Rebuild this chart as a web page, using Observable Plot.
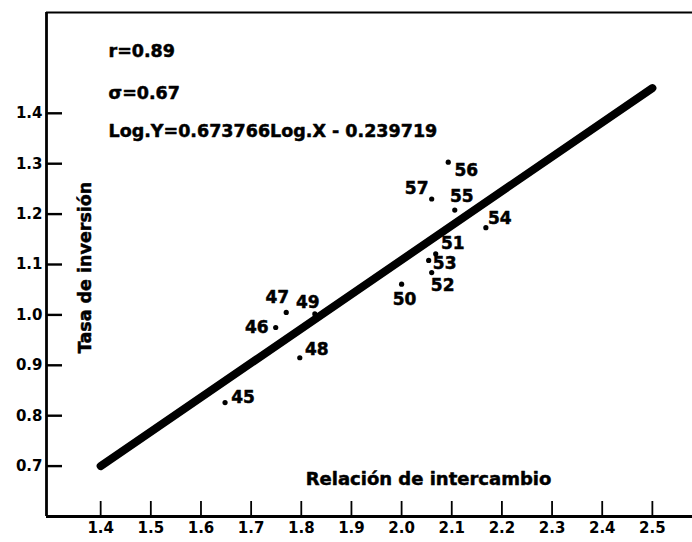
<!DOCTYPE html>
<html>
<head>
<meta charset="utf-8">
<script src="https://cdn.jsdelivr.net/npm/d3@7"></script>
<script src="https://cdn.jsdelivr.net/npm/@observablehq/plot@0.6"></script>
<style>
  html, body { margin: 0; padding: 0; background: #fff; }
  svg { display: block; }
</style>
</head>
<body>
<div id="chart"></div>
<script>
// Observed years (19xx) with trade ratio (x) and investment rate (y)
const years = ["45", "46", "47", "48", "49", "50", "51", "52", "53", "54", "55", "56", "57"];
const relacion = [1.648, 1.749, 1.770, 1.797, 1.827, 2.000, 2.068, 2.060, 2.054, 2.168, 2.106, 2.093, 2.060];
const tasa = [0.826, 0.975, 1.005, 0.915, 1.002, 1.061, 1.121, 1.084, 1.108, 1.173, 1.208, 1.303, 1.230];

// Fitted regression line end points
const fitX = [1.4, 2.5];
const fitY = [0.70, 1.45];

// Tick values
const xTicks = [1.4, 1.5, 1.6, 1.7, 1.8, 1.9, 2.0, 2.1, 2.2, 2.3, 2.4, 2.5];
const yTicks = [0.7, 0.8, 0.9, 1.0, 1.1, 1.2, 1.3, 1.4];

// Statistics printed in the upper-left corner
const stats = ["r=0.89", "σ=0.67", "Log.Y=0.673766Log.X - 0.239719"];

const points = years.map((label, i) => ({label, x: relacion[i], y: tasa[i]}));
const fit = fitX.map((x, i) => ({x, y: fitY[i]}));

// Label placement around each dot (pixels)
const labelOffset = {
  "45": [18, -5], "46": [-19, 0], "47": [-9, -15], "48": [17, -8],
  "49": [-7, -11], "50": [3, 15], "51": [17, -10], "52": [11, 13],
  "53": [16, 3], "54": [14, -9], "55": [7, -14], "56": [18, 8], "57": [-15, -10]
};

const W = 692, H = 542;
const mL = 46, mR = 0, mT = 12, mB = 26;
const plotW = W - mL - mR, plotH = H - mT - mB;
const xMin = 1.292, xMax = 2.58, yMin = 0.6, yMax = 1.6;

// heavy lettering
const ink = {fill: "#000", stroke: "#000", strokeWidth: 0.5, fontWeight: "bold"};

const chart = Plot.plot({
  width: W,
  height: H,
  marginLeft: mL,
  marginRight: mR,
  marginTop: mT,
  marginBottom: mB,
  x: {domain: [xMin, xMax]},
  y: {domain: [yMin, yMax]},
  style: {fontFamily: "DejaVu Sans", fontWeight: "bold", color: "#000", background: "#fff", overflow: "visible"},
  marks: [
    // tick labels
    Plot.axisX(xTicks, {tickSize: 0, tickPadding: 6, fontSize: 15, ...ink, tickFormat: d => d.toFixed(1), label: null}),
    Plot.axisY(yTicks, {tickSize: 0, tickPadding: 4, fontSize: 15, ...ink, tickFormat: d => d.toFixed(1), label: null}),
    // inward tick marks
    Plot.ruleX(xTicks, {insetTop: plotH - 15, strokeWidth: 1.8, stroke: "#000"}),
    Plot.ruleY(yTicks, {insetRight: plotW - 16, strokeWidth: 2.4, stroke: "#000"}),
    // frame lines: left, bottom, top
    Plot.ruleX([xMin], {strokeWidth: 2.8, stroke: "#000"}),
    Plot.ruleY([yMin], {strokeWidth: 2.8, stroke: "#000"}),
    Plot.ruleY([yMax], {strokeWidth: 2.2, stroke: "#000"}),
    // regression line
    Plot.line(fit, {x: "x", y: "y", stroke: "#000", strokeWidth: 8, strokeLinecap: "round"}),
    // observations
    Plot.dot(points, {x: "x", y: "y", r: 2.6, fill: "#000"}),
    ...points.map(p => Plot.text([p], {
      x: "x", y: "y", text: "label",
      dx: labelOffset[p.label][0], dy: labelOffset[p.label][1],
      fontSize: 17, ...ink
    })),
    // statistics
    ...stats.map((s, i) => Plot.text([s], {
      frameAnchor: "top-left", textAnchor: "start", lineAnchor: "middle",
      dx: 62, dy: [51, 93, 131][i] - mT,
      fontSize: 17.5, ...ink
    })),
    // axis titles
    Plot.text(["Relación de intercambio"], {
      frameAnchor: "bottom-left", textAnchor: "middle", lineAnchor: "middle",
      dx: 428 - mL, dy: -(516 - 479),
      fontSize: 18, ...ink
    }),
    Plot.text(["Tasa de inversión"], {
      frameAnchor: "top-left", textAnchor: "middle", lineAnchor: "middle",
      dx: 85 - mL, dy: 267 - mT, rotate: -90,
      fontSize: 17.5, ...ink
    })
  ]
});

document.getElementById("chart").appendChild(chart);
</script>
</body>
</html>
